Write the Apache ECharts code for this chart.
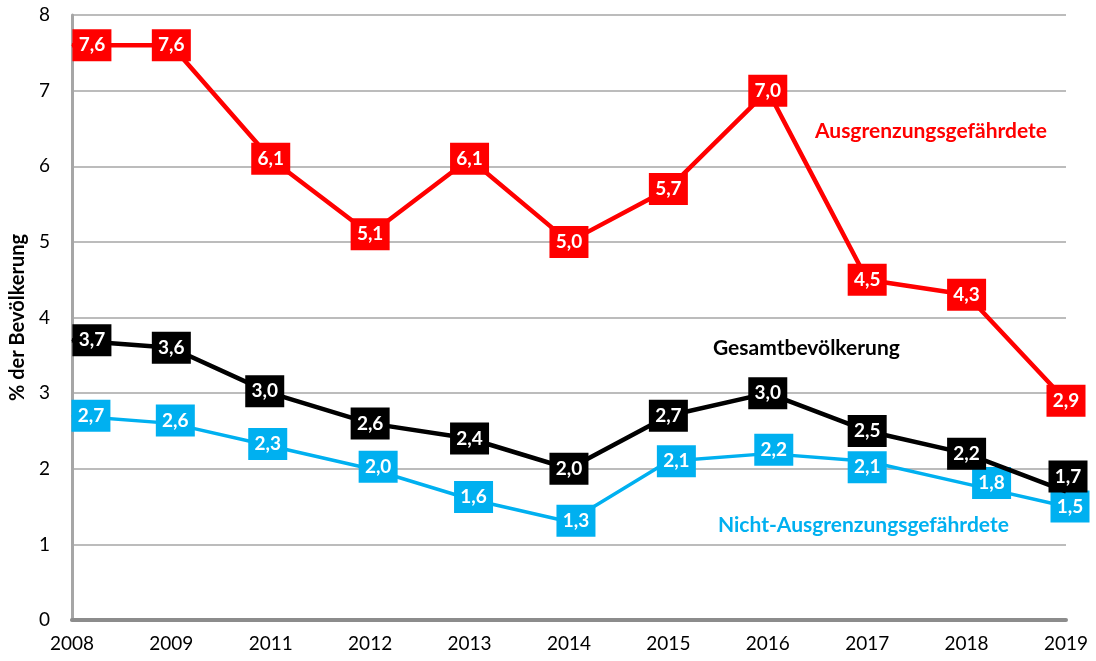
<!DOCTYPE html>
<html>
<head>
<meta charset="utf-8">
<script src="https://cdn.jsdelivr.net/npm/echarts@6/dist/echarts.min.js"></script>
<style>
  html, body { margin: 0; padding: 0; background: #fff; }
  #chart { width: 1096px; height: 661px; }
</style>
</head>
<body>
<div id="chart"></div>
<script>
// Jahre (2010 fehlt in der Vorlage)
const years = ['2008', '2009', '2011', '2012', '2013', '2014', '2015', '2016', '2017', '2018', '2019']
// Anteile in % der Bevölkerung
const ausgrenzung = [7.6, 7.6, 6.1, 5.1, 6.1, 5.0, 5.7, 7.0, 4.5, 4.3, 2.9]
const gesamt = [3.7, 3.6, 3.0, 2.6, 2.4, 2.0, 2.7, 3.0, 2.5, 2.2, 1.7]
const nichtAusgrenzung = [2.7, 2.6, 2.3, 2.0, 1.6, 1.3, 2.1, 2.2, 2.1, 1.8, 1.5]
const yTicks = [0, 1, 2, 3, 4, 5, 6, 7, 8]

const FONT = 'Lato, "Open Sans", sans-serif'

// kleine Verschiebungen der Wertekästchen, damit sie wie im Original sitzen
const shiftRed = { 0: [20, 0] }
const shiftBlack = { 0: [20, 0], 2: [-6, -2], 10: [2, -15] }
const shiftBlue = { 0: [19, 0], 1: [4, -3], 2: [-3, -2], 3: [8, -2], 4: [4, -2], 5: [7, -1], 6: [8, 0], 7: [6, -4], 8: [0, 6], 9: [25, -1], 10: [4, 0] }

function makeSeries(name, values, color, width, shifts, z) {
  return {
    name: name,
    type: 'line',
    z: z,
    data: values,
    symbol: 'rect',
    symbolSize: 1,
    itemStyle: { color: color },
    lineStyle: { color: color, width: width },
    label: {
      show: true,
      position: 'inside',
      formatter: p => p.value.toFixed(1).replace('.', ','),
      color: '#fff',
      fontFamily: FONT,
      fontWeight: 'bold',
      fontSize: 19,
      backgroundColor: color,
      width: 39,
      height: 32,
      lineHeight: 32,
      align: 'center',
      verticalAlign: 'middle',
      padding: 0
    },
    labelLayout: params => {
      const s = shifts[params.dataIndex]
      const out = { hideOverlap: false }
      if (s) {
        out.dx = s[0]
        out.dy = s[1]
      }
      return out
    },
    emphasis: { disabled: true },
    animation: false
  }
}

const chart = echarts.init(document.getElementById('chart'))
chart.setOption({
  animation: false,
  grid: { left: 68, right: 30, top: 15, bottom: 41 },
  xAxis: {
    type: 'category',
    data: years,
    boundaryGap: false,
    axisLine: { show: true, lineStyle: { color: '#8c8c8c', width: 4 } },
    axisTick: { show: false },
    axisLabel: { color: '#000', fontFamily: FONT, fontSize: 19, margin: 14 }
  },
  yAxis: {
    type: 'value',
    min: yTicks[0],
    max: yTicks[yTicks.length - 1],
    interval: 1,
    name: '% der Bevölkerung',
    nameLocation: 'middle',
    nameRotate: 90,
    nameGap: 37,
    nameTextStyle: { color: '#000', fontFamily: FONT, fontWeight: 'bold', fontSize: 20 },
    axisLine: { show: true, lineStyle: { color: '#a6a6a6', width: 3 } },
    axisTick: { show: false },
    axisLabel: { color: '#000', fontFamily: FONT, fontSize: 19, margin: 22 },
    splitLine: { lineStyle: { color: '#a6a6a6', width: 1.5 } }
  },
  series: [
    makeSeries('Nicht-Ausgrenzungsgefährdete', nichtAusgrenzung, '#00b0f0', 3.5, shiftBlue, 2),
    makeSeries('Gesamtbevölkerung', gesamt, '#000000', 4.5, shiftBlack, 3),
    makeSeries('Ausgrenzungsgefährdete', ausgrenzung, '#ff0000', 4.5, shiftRed, 4)
  ],
  graphic: [
    {
      type: 'text', left: 815, top: 121,
      style: { text: 'Ausgrenzungsgefährdete', fill: '#ff0000', font: 'bold 21px Lato, sans-serif' }
    },
    {
      type: 'text', left: 713, top: 338,
      style: { text: 'Gesamtbevölkerung', fill: '#000', font: 'bold 21px Lato, sans-serif' }
    },
    {
      type: 'text', left: 718, top: 515,
      style: { text: 'Nicht-Ausgrenzungsgefährdete', fill: '#00b0f0', font: 'bold 21px Lato, sans-serif' }
    }
  ]
})
</script>
</body>
</html>
